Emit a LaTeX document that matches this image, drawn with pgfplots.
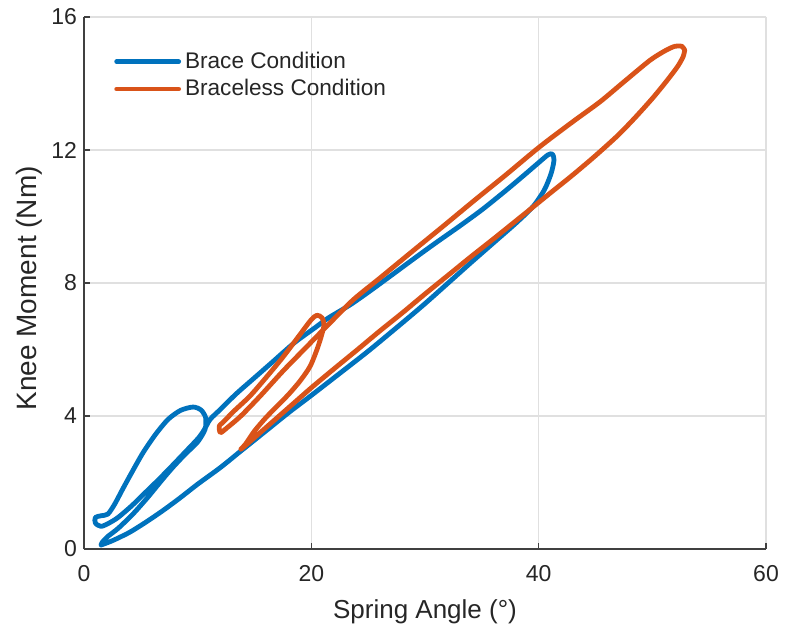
\documentclass[border=0pt]{standalone}
\usepackage{fontspec}
\setmainfont{Liberation Sans}
\usepackage{pgfplots}
\pgfplotsset{compat=1.18}
\definecolor{mblue}{rgb}{0,0.447,0.741}
\definecolor{morange}{rgb}{0.85,0.325,0.098}
\begin{document}
\begin{tikzpicture}
\begin{axis}[
  scale only axis, width=341pt, height=266pt,
  xmin=0, xmax=60, ymin=0, ymax=16,
  xtick={0,20,40,60}, ytick={0,4,8,12,16},
  axis lines=left, axis line style={-, draw=black!75, line width=0.6pt},
  tick align=inside, major tick length=3pt,
  tick style={black!75, line width=0.6pt},
  grid=major, grid style={black!12, line width=0.6pt},
  /pgf/number format/assume math mode=true,
  ticklabel style={font=\fontsize{11.5}{13}\selectfont, text=black!85},
  xticklabel style={yshift=-4.5pt},
  xlabel={Spring Angle (°)}, ylabel={Knee Moment (Nm)},
  every axis x label/.style={at={(axis description cs:0.5,-0.118)}, anchor=center,
    font=\fontsize{13}{15}\selectfont, text=black!85},
  every axis y label/.style={at={(axis description cs:-0.08,0.49)}, anchor=center, rotate=90,
    font=\fontsize{14}{16}\selectfont, text=black!85},
  legend style={at={(axis description cs:0.035,0.95)}, anchor=north west, draw=none, fill=none,
    font=\fontsize{11.3}{13}\selectfont, text=black!85},
  legend cell align=left,
  legend image code/.code={\draw[#1, line width=2.4pt] (0pt,0pt) -- (31pt,0pt);},
  every axis plot/.append style={line width=2.4pt, line join=round, line cap=round, smooth, tension=0.45},
]
\addplot[mblue] coordinates {
(1.5,0.12) (2.5,0.25) (4,0.5) (5.5,0.82) (7,1.17) (8.5,1.55) (10,1.95) (12,2.45)
(13.7,2.92) (16,3.55) (18,4.1) (20,4.62) (22,5.15) (25,5.95) (28,6.8) (30,7.38)
(32.2,8.05) (34,8.6) (36,9.2) (38,9.8) (39.5,10.3) (40.5,10.8) (41.1,11.3) (41.35,11.7)
(41.2,11.88) (40.8,11.85) (40,11.62) (38.5,11.18) (37,10.75) (35,10.2) (33,9.7)
(31,9.22) (29.3,8.8) (27,8.22) (25,7.72) (23.4,7.34) (21.5,6.95) (20.3,6.65)
(18.5,6.2) (16.5,5.6) (15,5.15) (13.4,4.67) (12,4.2) (11.1,3.9) (10.6,3.6)
(10.1,3.35) (9,2.95) (7.8,2.52) (6.6,2.1) (5.4,1.7) (4.2,1.3) (3,0.95) (2.2,0.78)
(1.5,0.68) (1.0,0.78) (1.0,0.95) (1.5,1.0) (2.1,1.05) (2.7,1.35) (3.4,1.8)
(4.2,2.3) (5.2,2.9) (6.3,3.45) (7.4,3.9) (8.5,4.17) (9.6,4.27) (10.3,4.18)
(10.7,3.95) (10.65,3.6) (10.0,3.22) (8.9,2.85) (7.8,2.45) (6.8,2.05) (5.6,1.55)
(4.3,1.05) (3.0,0.62) (2.1,0.38) (1.6,0.2) (1.5,0.12)
};
\addlegendentry{Brace Condition}
\addplot[morange] coordinates {
(52.85,15.0) (52.6,15.12) (52.0,15.12) (51.2,15.0) (49.8,14.7) (47.5,14.05)
(45.4,13.45) (43,12.85) (40.1,12.1) (37,11.22) (34.4,10.5) (31.5,9.68)
(28.7,8.9) (26,8.14) (23.7,7.5) (21.5,6.75) (19.5,6.05) (17.5,5.35) (15.5,4.6)
(13.8,4.0) (12.6,3.65) (12.0,3.5) (11.9,3.7) (12.2,3.8) (13.2,4.15) (14.6,4.6)
(16,5.15) (17.5,5.77) (19,6.45) (20,6.9) (20.5,7.03) (20.95,6.95) (21.1,6.7)
(20.6,6.1) (19.9,5.5) (19.0,5.05) (18.0,4.65) (17.0,4.3) (16.0,3.95) (15.0,3.55)
(14.2,3.15) (13.8,3.0) (14.5,3.2) (16,3.65) (18,4.25) (20,4.85) (22,5.42) (24,5.98)
(26,6.55) (28,7.1) (30,7.67) (32.2,8.28) (34,8.78) (36,9.32) (38,9.87)
(39.2,10.2) (41,10.7) (43,11.25) (45,11.83) (47,12.45) (48.5,12.98) (50,13.55)
(51.2,14.05) (52.2,14.5) (52.7,14.8) (52.85,15.0)
};
\addlegendentry{Braceless Condition}
\end{axis}
\pgfresetboundingbox
\path[use as bounding box] ([shift={(-42pt,-42pt)}]current axis.south west) rectangle ([shift={(9.5pt,8.5pt)}]current axis.north east);
\end{tikzpicture}
\end{document}
